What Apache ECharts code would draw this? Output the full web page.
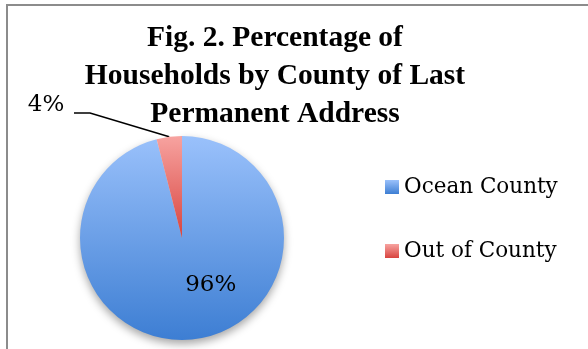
<!DOCTYPE html>
<html>
<head>
<meta charset="utf-8">
<script src="https://cdn.jsdelivr.net/npm/echarts@6/dist/echarts.min.js"></script>
<style>
  html, body { margin: 0; padding: 0; background: #fff; }
  #chart { width: 588px; height: 349px; }
</style>
</head>
<body>
<div id="chart"></div>
<script>
// Household shares by county of last permanent address (percent)
const categories = ['Ocean County', 'Out of County'];
const shares = [96, 4];
const titleText = 'Fig. 2. Percentage of\nHouseholds by County of Last\nPermanent Address';

const serif = 'DejaVu Serif';

function vGrad(top, bottom) {
  return new echarts.graphic.LinearGradient(0, 0, 0, 1, [
    { offset: 0, color: top },
    { offset: 1, color: bottom }
  ]);
}
const sliceFills = [vGrad('#9ac1fb', '#3d7ed3'), vGrad('#f7a3a0', '#d8443f')];

const chart = echarts.init(document.getElementById('chart'), null, { renderer: 'canvas' });

const data = categories.map((name, i) => {
  const item = { name: name, value: shares[i], itemStyle: { color: sliceFills[i] } };
  if (i === 0) {
    item.label = { position: 'inside', offset: [22, -7] };
    item.itemStyle.shadowBlur = 8;
    item.itemStyle.shadowOffsetY = 4;
    item.itemStyle.shadowColor = 'rgba(0,0,0,0.35)';
  } else {
    item.label = { position: 'outside' };
  }
  return item;
});

chart.setOption({
  animation: false,
  backgroundColor: '#ffffff',
  title: {
    text: titleText,
    left: 270,
    top: 14,
    textAlign: 'center',
    textStyle: {
      fontFamily: 'Liberation Serif',
      fontWeight: 'bold',
      fontSize: 29.5,
      lineHeight: 38,
      color: '#000'
    }
  },
  legend: {
    orient: 'vertical',
    left: 380,
    top: 171,
    itemWidth: 14,
    itemHeight: 14,
    itemGap: 42,
    icon: 'rect',
    textStyle: { fontFamily: serif, fontSize: 21.5, color: '#000' },
    data: categories
  },
  graphic: [{
    type: 'rect',
    silent: true,
    z: 0,
    shape: { x: 7, y: 5, width: 700, height: 500 },
    style: { fill: 'none', stroke: '#8c8c8c', lineWidth: 2 }
  }],
  series: [{
    type: 'pie',
    center: [182, 238],
    radius: 102,
    startAngle: 90,
    clockwise: true,
    avoidLabelOverlap: false,
    emphasis: { disabled: true },
    label: {
      formatter: '{c}%',
      fontFamily: serif,
      fontSize: 23,
      color: '#000'
    },
    labelLine: {
      show: true,
      length: 10,
      length2: 10,
      lineStyle: { color: '#000', width: 1.5 }
    },
    labelLayout: function (p) {
      if (p.dataIndex !== 1) return {};
      const lx = 46, ly = 105;
      const anchor = p.labelLinePoints ? p.labelLinePoints[0] : [169, 137];
      return {
        x: lx,
        y: ly,
        align: 'center',
        verticalAlign: 'middle',
        labelLinePoints: [anchor, [lx + 44, ly + 8], [lx + 28, ly + 8]]
      };
    },
    data: data
  }]
});
</script>
</body>
</html>
